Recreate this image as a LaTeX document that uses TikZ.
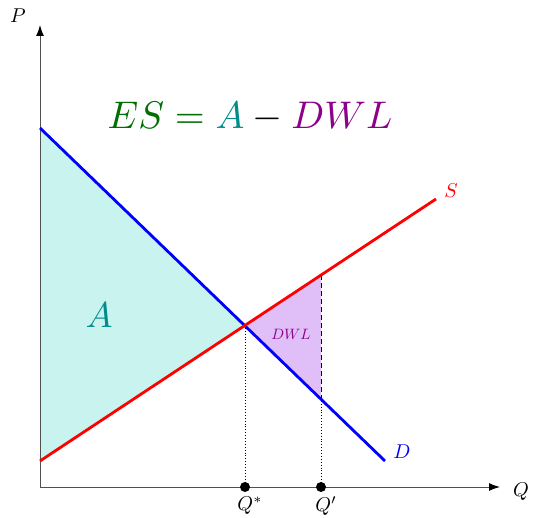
\documentclass[tikz,border=0pt]{standalone}
\usepackage{graphicx}
\usetikzlibrary{arrows.meta}
\definecolor{tealfill}{RGB}{200,243,238}
\definecolor{purfill}{RGB}{224,190,247}
\definecolor{mypurple}{RGB}{140,0,140}
\definecolor{mygreen}{RGB}{0,110,0}
\definecolor{myteal}{RGB}{0,140,140}
\definecolor{axisgray}{RGB}{80,80,80}
\tikzset{
  axis/.style={draw=axisgray, line width=1pt, -{Latex[length=11pt,width=8pt,color=black]}, fill=none},
  curve/.style={line width=2.8pt},
  dotmark/.style={circle, fill=black, inner sep=0pt, minimum size=10pt},
  lbl/.style={inner sep=0pt},
}
\begin{document}
\begin{tikzpicture}[x=1pt,y=-1pt]
\useasboundingbox (0,0) rectangle (533,518);
% named points
\coordinate (O) at (40,487);
\coordinate (Dtop) at (40,128);
\coordinate (Dend) at (385,461);
\coordinate (Sbot) at (40,461);
\coordinate (Send) at (436,199);
\coordinate (E) at (245,325);
\coordinate (Sq) at (321,275);
\coordinate (Dq) at (321,398);
\coordinate (Xend) at (500,487);
\coordinate (Yend) at (40,25);
% fills
\fill[tealfill] (Dtop) -- (E) -- (Sbot) -- cycle;
\fill[purfill] (E) -- (Sq) -- (Dq) -- cycle;
% axes
\draw[axis] (O) -- (Xend);
\draw[axis] (O) -- (Yend);
% guide lines
\node[dotmark] (qs) at (245,487) {};
\node[dotmark] (qp) at (321,487) {};
\draw[dotted, line width=0.9pt] (E) -- (qs.center);
\draw[dotted, line width=0.9pt] (Dq) -- (qp.center);
\draw[line width=0.9pt, dash pattern=on 5pt off 3pt] (Sq) -- (Dq);
% curves
\draw[curve, blue] (Dtop) -- (Dend);
\draw[curve, red] (Sbot) -- (Send);
% labels
\node[lbl] (P) at (18,16) {\scalebox{2}{$P$}};
\node[lbl] (Q) at (521,492) {\scalebox{2}{$Q$}};
\node[lbl, red] (S) at (451,191) {\scalebox{2}{$S$}};
\node[lbl, blue] (D) at (402,452) {\scalebox{2}{$D$}};
\node[lbl] (qsl) at (250,506) {\scalebox{2}{$Q^{*}$}};
\node[lbl] (qpl) at (326,506) {\scalebox{2}{$Q'$}};
\node[lbl, myteal] (A) at (99,315) {\scalebox{3.6}{$A$}};
\node[lbl, mypurple] (dwl) at (291,334) {\scalebox{1.5}{$DWL$}};
\node[lbl] (es) at (250,117) {\scalebox{3.85}{$\color{mygreen}ES=\color{myteal}A\color{black}-\color{mypurple}DWL$}};
\end{tikzpicture}
\end{document}
